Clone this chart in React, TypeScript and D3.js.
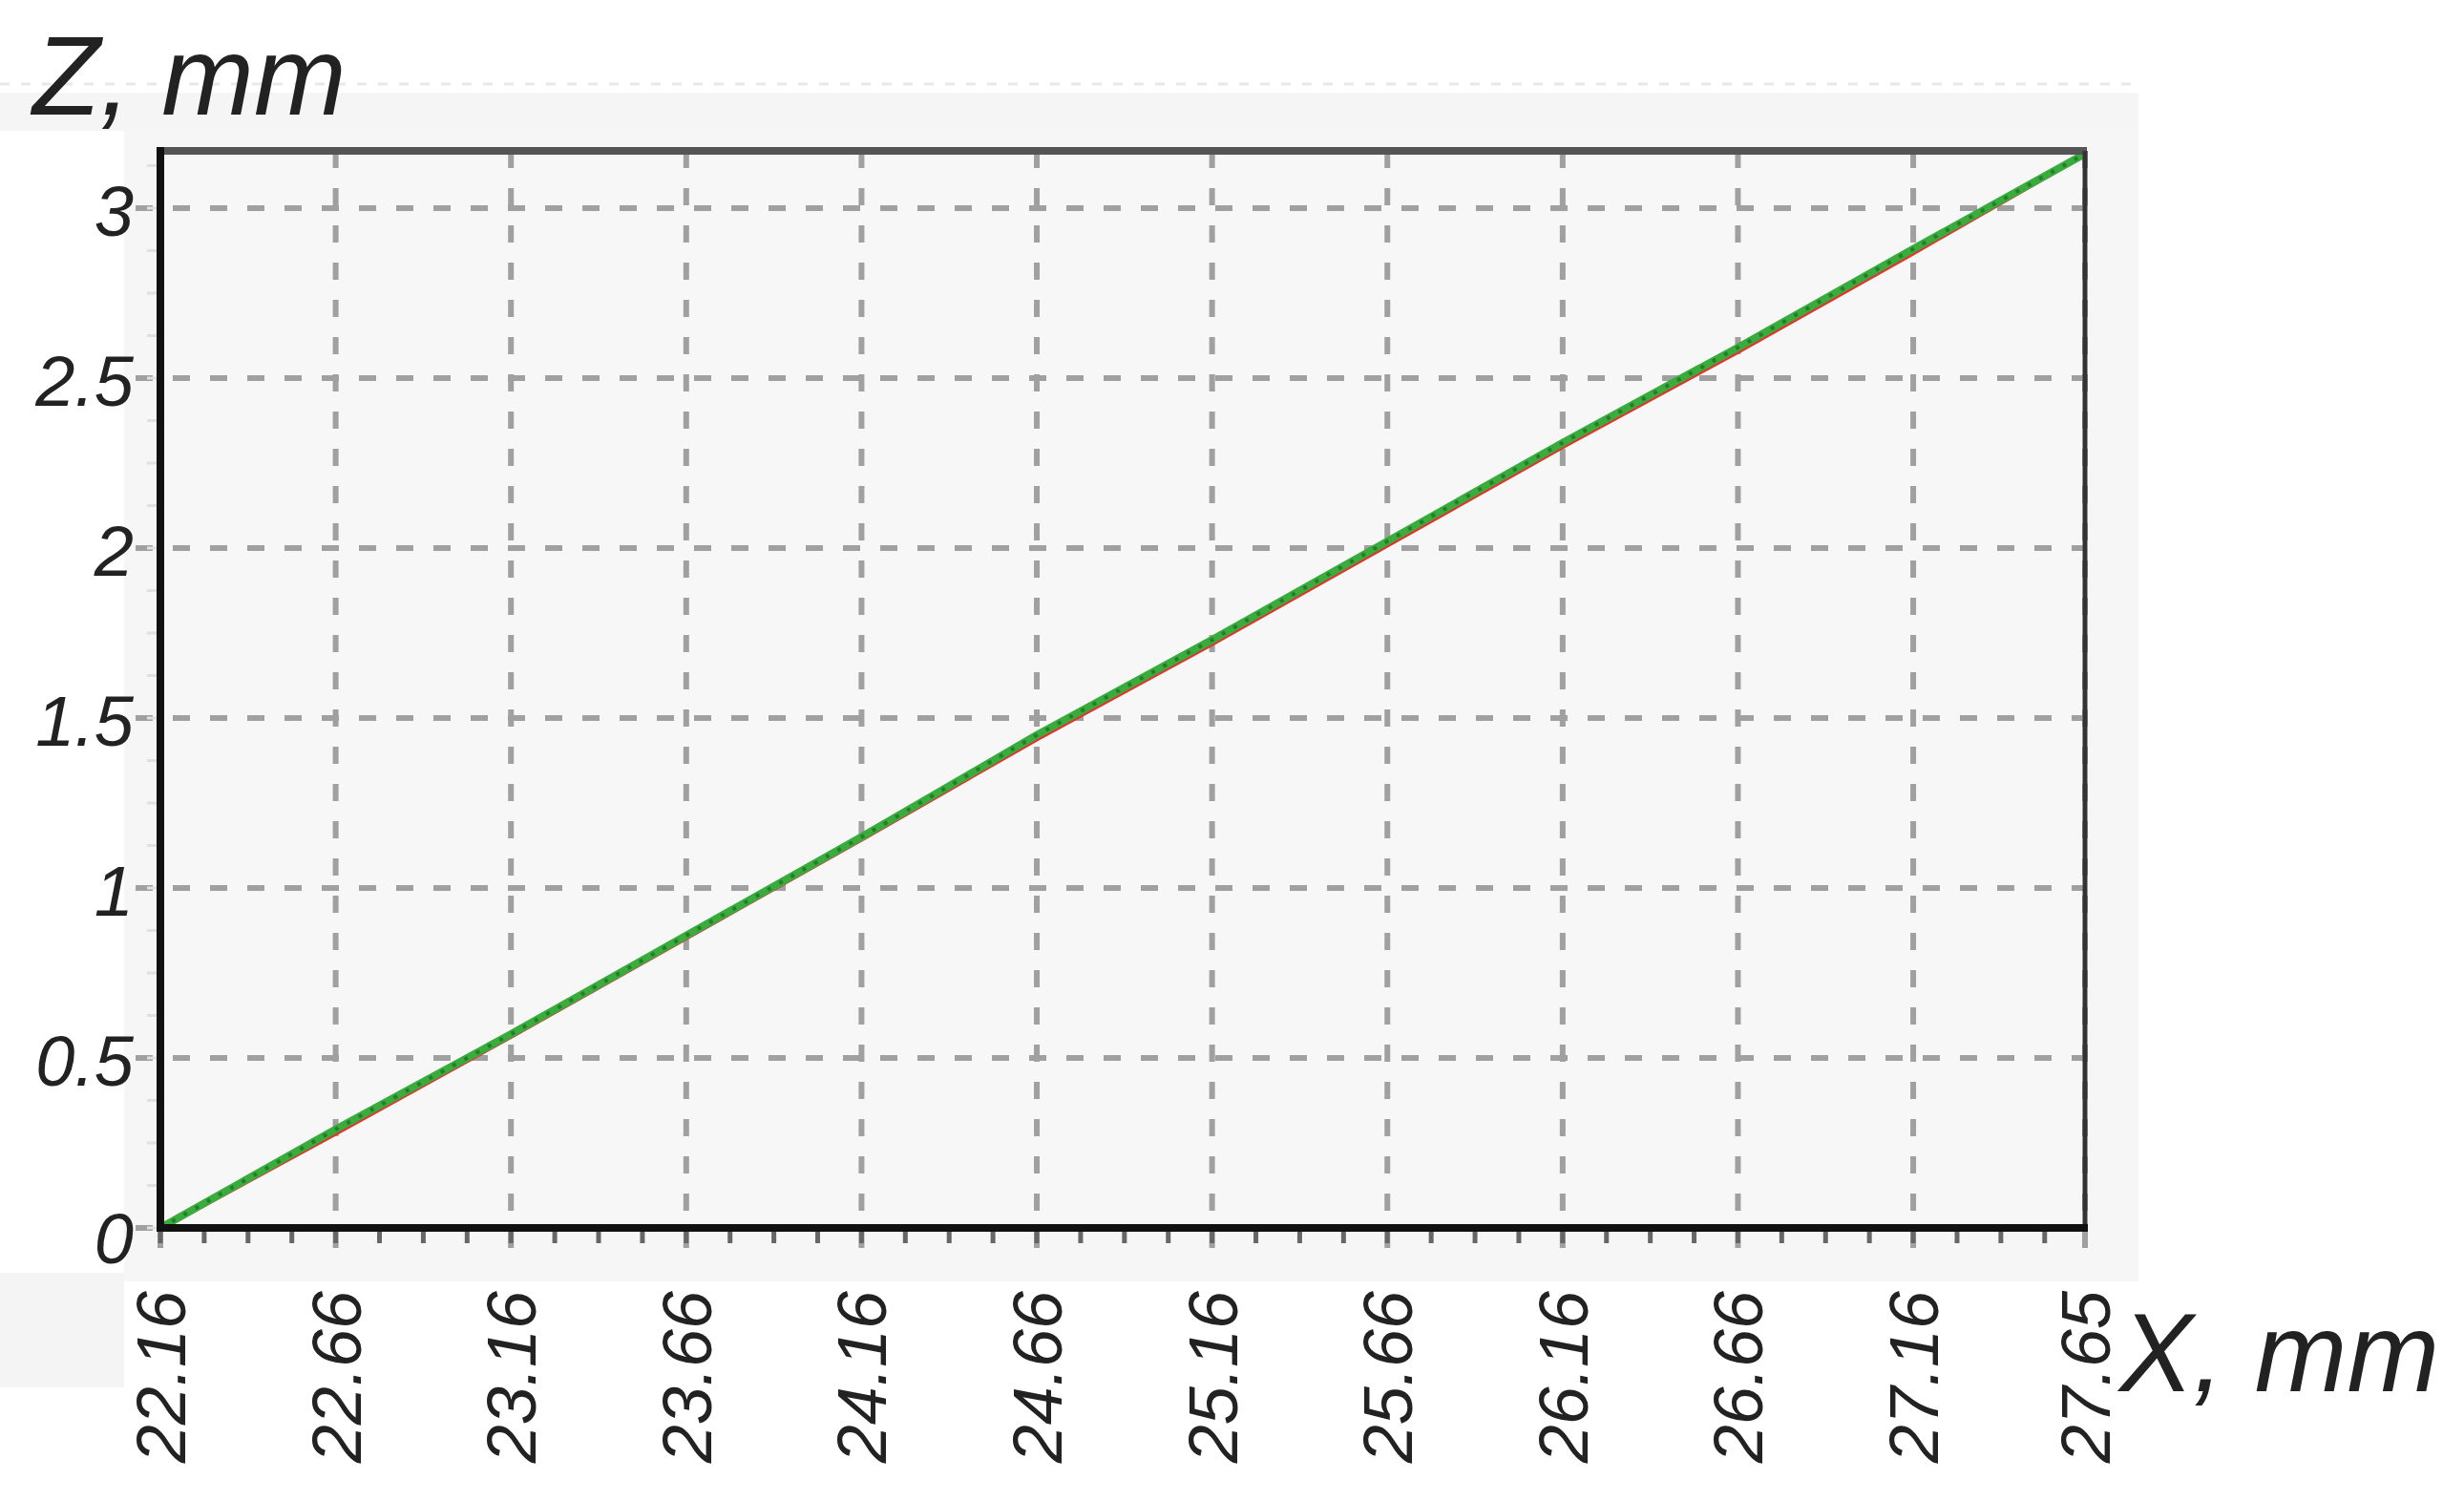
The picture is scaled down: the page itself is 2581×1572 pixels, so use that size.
import React, { useEffect, useRef } from "react";
import * as d3 from "d3";

// tick labels
const xTicks = [22.16, 22.66, 23.16, 23.66, 24.16, 24.66, 25.16, 25.66, 26.16, 26.66, 27.16, 27.65];
const yTicks = [0, 0.5, 1, 1.5, 2, 2.5, 3];

// measured profile (X, mm) and the two Z traces
const xValues = [22.16, 22.66, 23.16, 23.66, 24.16, 24.66, 25.16, 25.66, 26.16, 26.66, 27.16, 27.65];
const zRed = [0, 0.28, 0.565, 0.855, 1.145, 1.44, 1.72, 2.01, 2.3, 2.58, 2.87, 3.16];
const zGreen = [0, 0.29, 0.57, 0.86, 1.15, 1.45, 1.73, 2.02, 2.31, 2.59, 2.88, 3.16];

const App = () => {
  const svgRef = useRef<SVGSVGElement>(null);

  const width = 2581;
  const height = 1572;
  const left = 168;
  const right = 2184;
  const top = 158;
  const bottom = 1286;
  const font = "'Liberation Sans', Arial, sans-serif";

  useEffect(() => {
    if (!svgRef.current) return;
    const svg = d3.select(svgRef.current);
    svg.selectAll("*").remove();

    const x = d3.scaleLinear().domain([22.16, 27.65]).range([left, right]);
    const y = d3.scaleLinear().domain([0, 3]).range([bottom, 218]);

    // background panels
    svg.append("rect").attr("x", 0).attr("y", 97).attr("width", 2240).attr("height", 40).attr("fill", "#f5f5f5");
    svg.append("rect").attr("x", 130).attr("y", 137).attr("width", 2110).attr("height", 1205).attr("fill", "#f6f6f6");
    svg.append("rect").attr("x", 0).attr("y", 1333).attr("width", 130).attr("height", 120).attr("fill", "#f4f4f4");
    svg
      .append("line")
      .attr("x1", 0)
      .attr("x2", 2240)
      .attr("y1", 88)
      .attr("y2", 88)
      .attr("stroke", "#e8e8e8")
      .attr("stroke-width", 3)
      .attr("stroke-dasharray", "10 12");
    svg
      .append("rect")
      .attr("x", left)
      .attr("y", top)
      .attr("width", right - left)
      .attr("height", bottom - top)
      .attr("fill", "#f7f7f7");

    // grid
    const grid = svg.append("g").attr("stroke", "#a0a0a0").attr("stroke-width", 6).attr("stroke-dasharray", "18 21");
    grid
      .selectAll(".vg")
      .data(xTicks)
      .join("line")
      .attr("x1", (d) => x(d))
      .attr("x2", (d) => x(d))
      .attr("y1", top)
      .attr("y2", bottom + 42);
    grid
      .selectAll(".hg")
      .data(yTicks)
      .join("line")
      .attr("x1", left - 26)
      .attr("x2", right)
      .attr("y1", (d) => y(d))
      .attr("y2", (d) => y(d));

    // lines
    const line = d3
      .line<number>()
      .x((_, i) => x(xValues[i]))
      .y((d) => y(d));
    svg
      .append("path")
      .datum(zRed)
      .attr("fill", "none")
      .attr("stroke", "#e0352b")
      .attr("stroke-width", 6)
      .attr("d", line);
    svg
      .append("path")
      .datum(zGreen)
      .attr("fill", "none")
      .attr("stroke", "#3aac3e")
      .attr("stroke-width", 8)
      .attr("d", line);
    svg
      .append("path")
      .datum(zGreen)
      .attr("fill", "none")
      .attr("stroke", "#237f2c")
      .attr("stroke-width", 4)
      .attr("stroke-dasharray", "4 10")
      .attr("d", line);

    // minor ticks under the x axis
    const minor = d3.range(22.16, 27.66, 0.125);
    svg
      .append("g")
      .selectAll("line")
      .data(minor)
      .join("line")
      .attr("x1", (d) => x(d))
      .attr("x2", (d) => x(d))
      .attr("y1", bottom)
      .attr("y2", bottom + 16)
      .attr("stroke", "#666")
      .attr("stroke-width", 5);

    // faint minor ticks on the left
    svg
      .append("g")
      .selectAll("line")
      .data(d3.range(0, 3.2, 0.125))
      .join("line")
      .attr("x1", left - 14)
      .attr("x2", left)
      .attr("y1", (d) => y(d))
      .attr("y2", (d) => y(d))
      .attr("stroke", "#e0e0e0")
      .attr("stroke-width", 3);

    // frame
    svg.append("line").attr("x1", left - 4).attr("x2", right + 2).attr("y1", top).attr("y2", top).attr("stroke", "#555").attr("stroke-width", 8);
    svg.append("line").attr("x1", right).attr("x2", right).attr("y1", top).attr("y2", bottom).attr("stroke", "#333").attr("stroke-width", 5);
    svg.append("line").attr("x1", left).attr("x2", left).attr("y1", top - 4).attr("y2", bottom + 4).attr("stroke", "#111").attr("stroke-width", 8);
    svg.append("line").attr("x1", left - 4).attr("x2", right + 3).attr("y1", bottom).attr("y2", bottom).attr("stroke", "#111").attr("stroke-width", 8);

    // y tick labels
    svg
      .append("g")
      .selectAll("text")
      .data(yTicks)
      .join("text")
      .attr("x", 140)
      .attr("y", (d) => y(d) + (d === 0 ? 10 : 2))
      .attr("dy", "0.36em")
      .attr("text-anchor", "end")
      .attr("font-family", font)
      .attr("font-style", "italic")
      .attr("font-size", 74)
      .attr("fill", "#222")
      .text((d) => String(d));

    // x tick labels, rotated
    svg
      .append("g")
      .selectAll("text")
      .data(xTicks)
      .join("text")
      .attr("transform", (d) => `translate(${x(d)},1352) rotate(-90)`)
      .attr("dy", "0.36em")
      .attr("text-anchor", "end")
      .attr("font-family", font)
      .attr("font-style", "italic")
      .attr("font-size", 72)
      .attr("fill", "#222")
      .text((d) => d.toFixed(2));

    // axis titles
    svg
      .append("text")
      .attr("x", 34)
      .attr("y", 120)
      .attr("font-family", font)
      .attr("font-style", "italic")
      .attr("font-size", 116)
      .attr("fill", "#222")
      .text("Z, mm");
    svg
      .append("text")
      .attr("x", 2220)
      .attr("y", 1457)
      .attr("font-family", font)
      .attr("font-style", "italic")
      .attr("font-size", 116)
      .attr("fill", "#222")
      .text("X, mm");
  }, []);

  return (
    <svg
      ref={svgRef}
      width={width}
      height={height}
      style={{ position: "absolute", left: 0, top: 0, background: "#fff" }}
    ></svg>
  );
};

export default App;
